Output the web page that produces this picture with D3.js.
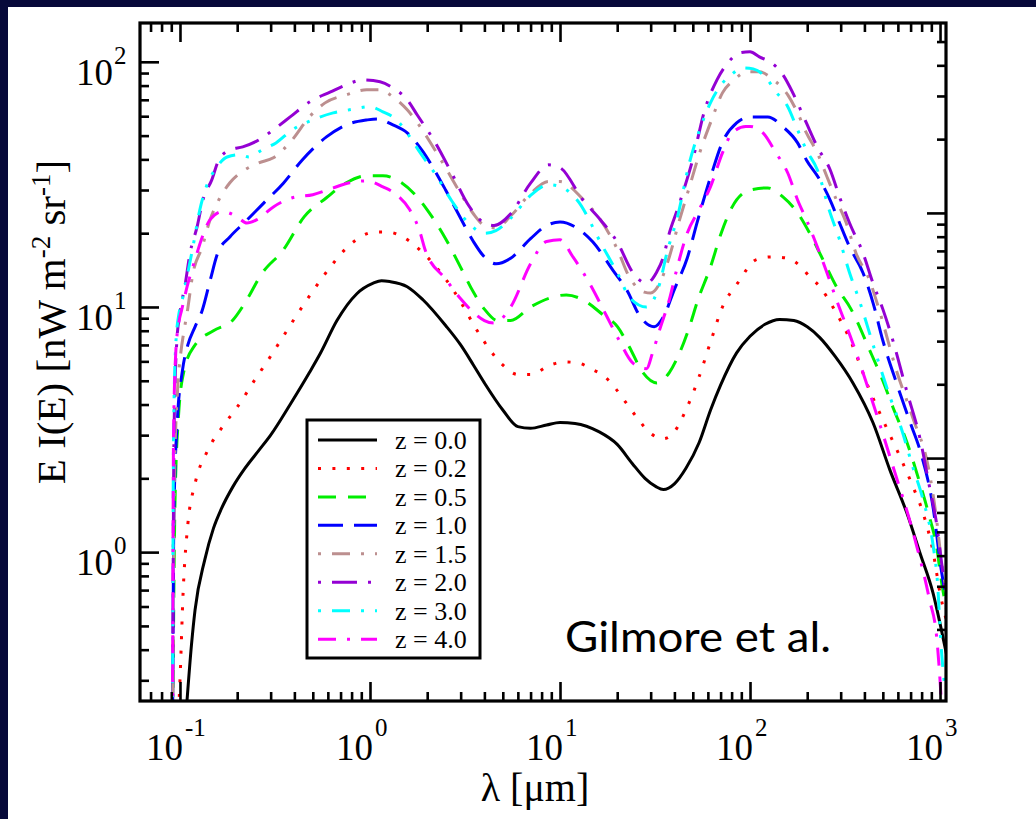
<!DOCTYPE html>
<html><head><meta charset="utf-8">
<script src="https://cdn.jsdelivr.net/npm/d3@7"></script>
<style>
html,body{margin:0;padding:0;background:#07093a;}
svg{display:block;}
</style></head>
<body>
<svg id="chart" width="1036" height="819"></svg>
<script>
// ---------------- data ----------------
const seriesLabels = ["z = 0.0","z = 0.2","z = 0.5","z = 1.0","z = 1.5","z = 2.0","z = 3.0","z = 4.0"];
const seriesColors = ["#000000","#ff0000","#00ee00","#0000ff","#bc8f8f","#9400d3","#00ffff","#ff00ff"];
const seriesDash = ["none","3,11.4","18,12","25,11","3,11,18,11","3,11,25,11","3,11,18,11,3,11","18,11,3,11,18,11"];

// [wavelength (micron), E I(E) (nW m^-2 sr^-1)]
const z00 = [[0.104,0.15],[0.109,0.25],[0.115,0.42],[0.12,0.58],[0.135,0.93],[0.15,1.25],[0.165,1.5],[0.19,1.85],[0.22,2.2],[0.26,2.6],[0.3,3.0],[0.38,4.0],[0.48,5.4],[0.55,6.5],[0.67,8.8],[0.85,11.3],[1.04,12.5],[1.15,12.8],[1.27,12.7],[1.57,12.1],[1.9,10.7],[2.5,8.4],[3.0,7.0],[3.5,5.8],[4.0,4.9],[5.0,3.8],[6.0,3.25],[7.0,3.2],[8.5,3.3],[10,3.38],[12,3.35],[16,3.1],[20,2.75],[24,2.3],[28,2.0],[32,1.85],[35,1.8],[40,1.9],[46,2.2],[54,2.8],[62,3.8],[70,4.8],[85,6.5],[100,7.6],[120,8.5],[143,8.9],[170,8.8],[200,8.3],[233,7.5],[280,6.3],[348,4.9],[444,3.37],[545,2.16],[670,1.44],[785,0.99],[919,0.68],[1012,0.49],[1100,0.36]];
const z02 = [[0.0915,0.1],[0.1,0.3],[0.104,0.7],[0.11,1.3],[0.12,1.9],[0.14,2.6],[0.17,3.3],[0.2,3.9],[0.25,5.1],[0.3,6.3],[0.35,7.6],[0.413,9.3],[0.5,11.6],[0.62,14.6],[0.77,17.7],[1.06,20.2],[1.25,20.2],[1.49,19.3],[1.95,16.3],[2.5,13.0],[3.0,10.5],[3.5,8.5],[4.0,7.2],[5.0,5.8],[6.0,5.3],[7.0,5.3],[8.9,5.8],[10.5,5.97],[12.6,5.9],[14.5,5.6],[17.2,5.2],[19.4,4.7],[21.6,4.2],[25,3.6],[30,3.05],[35,2.9],[40,3.1],[46,3.8],[54,5.2],[62,7.2],[71.6,10],[86,12.5],[108,15.6],[130,16.0],[158,15.8],[185,14.6],[206,13.3],[233,12.1],[273,10.0],[340,7.2],[425,4.6],[515,3.3],[617,2.44],[722,1.84],[815,1.44],[922,0.99],[1000,0.68],[1100,0.5]];
const z05 = [[0.0912,0.12],[0.094,1.5],[0.098,3.5],[0.105,5.5],[0.12,7.0],[0.15,8.0],[0.19,8.85],[0.22,10.4],[0.27,13.7],[0.35,17.1],[0.45,23.3],[0.59,27.9],[0.75,32.1],[0.96,34.3],[1.17,34.3],[1.44,32.4],[1.77,28.1],[2.0,24.9],[2.5,19],[3.0,14.5],[3.5,11.5],[4.0,9.8],[4.7,8.8],[5.5,8.8],[7.0,10.0],[8.9,10.9],[10.8,11.2],[13.2,10.7],[16.8,9.3],[20.1,8.3],[23.1,6.9],[27.3,5.4],[32.3,4.9],[37.6,5.4],[42.6,6.5],[48,8.3],[53,10.6],[62,14.6],[70.5,20],[80.6,25.6],[100,30],[124,30.6],[149,28.1],[178,24.2],[206,20],[242,15.6],[285,12.1],[340,9.8],[425,6.7],[500,5.0],[565,3.9],[670,2.8],[785,1.9],[880,1.39],[960,1.05],[1020,0.75],[1100,0.55]];
const z10 = [[0.0912,0.12],[0.093,1.5],[0.097,3.5],[0.103,5.5],[0.11,7.0],[0.12,8.3],[0.131,9.7],[0.144,12.8],[0.158,16.6],[0.183,19.3],[0.22,22.2],[0.27,26.1],[0.35,32],[0.44,39.8],[0.59,49.4],[0.75,55.3],[0.96,57.9],[1.09,58.5],[1.32,55.3],[1.57,51.3],[1.9,43],[2.07,38.8],[2.5,30],[3.0,23],[3.5,18.5],[4.0,16],[4.6,15],[5.5,15.8],[7.0,19],[8.5,21.5],[10,22.2],[12.6,20.7],[14.9,18.4],[19,14.1],[22.5,11.7],[26.5,9.1],[31.3,8.3],[35,9.1],[40,11.8],[46.7,15.8],[53,22.5],[62.8,35],[71.6,47],[85,56.3],[100,59.6],[124,59.6],[149,54.3],[178,46.7],[198,39.8],[233,33],[264,27.3],[296,22],[334,17.6],[393,13.8],[444,10.4],[500,7.3],[590,4.9],[697,3.37],[785,2.6],[922,1.5],[1012,0.86],[1100,0.6]];
const z15 = [[0.0912,0.1],[0.0935,2],[0.097,4.5],[0.101,6.5],[0.105,8],[0.109,9.46],[0.117,13.7],[0.131,17.6],[0.144,22.7],[0.158,26.8],[0.183,32.1],[0.22,36.3],[0.26,38.7],[0.31,40.6],[0.39,48.1],[0.48,59.6],[0.58,68],[0.75,73.3],[0.96,76.9],[1.13,76.9],[1.32,72],[1.57,63.7],[1.84,54.3],[2.07,47.1],[2.5,37],[3.0,29],[3.5,24],[4.0,21.5],[4.6,21],[5.5,23.5],[7.0,29],[8.7,32.5],[10,32.5],[13.2,27.5],[16.3,22.7],[20.1,17.1],[23.1,13.3],[27.8,11.5],[30,11.4],[33.5,12.5],[37.6,16],[42.6,22.7],[48,30.9],[54.3,42.5],[62.8,58],[71.6,74.7],[82.4,84.4],[96,91],[112,91],[133,84.4],[158,73.3],[178,61.9],[198,51.3],[226,42.5],[254,34],[285,27.3],[321,22],[361,16.6],[425,12.9],[479,9.7],[590,5.5],[722,3.5],[870,2.2],[960,1.35],[1012,0.95],[1100,0.65]];
const z20 = [[0.0912,0.1],[0.093,3],[0.096,7],[0.1,9.5],[0.106,12.1],[0.113,16.6],[0.123,21.2],[0.132,27.3],[0.147,33],[0.16,39.8],[0.183,43.7],[0.214,45],[0.26,48],[0.31,52.8],[0.38,59.6],[0.48,68.6],[0.62,75.4],[0.75,80.6],[0.92,84.4],[1.13,82.9],[1.32,78.3],[1.57,70],[1.77,60.8],[2.2,47],[2.7,35],[3.3,26],[4.0,22],[4.5,21.5],[5.5,24],[7.0,32],[8.7,38],[10,37],[13.2,27.3],[16.3,22.7],[20.1,18.3],[24.2,13.8],[28.5,12.5],[32.3,13.9],[35,16],[37.6,20],[41.5,25],[44.3,29.2],[49.9,39.8],[57.8,63.7],[67,84.4],[76.4,99],[88.6,108.8],[100,109.8],[112,104.8],[130,99],[149,88.5],[168,74.7],[198,56.3],[226,45],[264,36.3],[296,28.1],[334,22],[393,16.6],[444,12.5],[500,9.8],[545,8.0],[670,4.5],[785,2.9],[880,1.85],[960,1.3],[1020,0.9],[1100,0.6]];
const z30 = [[0.0912,0.1],[0.0925,3],[0.095,7],[0.099,9.5],[0.102,10.4],[0.11,13.8],[0.117,17.6],[0.127,24.8],[0.14,32.1],[0.153,36.3],[0.177,40.9],[0.207,41.8],[0.23,40.9],[0.27,43.7],[0.32,46.7],[0.39,52.8],[0.5,58],[0.64,61.9],[0.78,63.7],[1.0,65.6],[1.17,62.5],[1.38,58],[1.62,49.4],[1.84,42.5],[2.2,35],[2.7,27],[3.3,22],[4.0,20],[4.6,20.5],[5.5,23],[7.0,28.5],[8.7,31.5],[10,31],[12.3,27.3],[16.8,17.6],[20.5,13.3],[23.1,11],[28.5,10],[33.5,12.5],[36.5,16.6],[41.5,23.3],[48,38.8],[54.3,52.8],[61.9,68],[70.5,80.6],[79.5,88.5],[92.6,94.5],[104,93.6],[124,84.4],[137,75.4],[158,65.6],[178,52.8],[198,43.7],[226,36.3],[264,24.2],[296,18.8],[334,13.8],[375,10.7],[464,6.3],[545,4.3],[617,3.3],[722,2.2],[815,1.63],[922,1.05],[970,0.75],[1012,0.42],[1060,0.28]];
const z40 = [[0.0912,0.1],[0.0925,3],[0.095,6.5],[0.099,8.8],[0.102,9.7],[0.109,12.1],[0.12,15.6],[0.131,19.3],[0.144,22.7],[0.168,24.5],[0.2,23.3],[0.225,22],[0.254,22.7],[0.31,25.6],[0.39,27.9],[0.5,28.7],[0.64,30.6],[0.78,32.1],[0.96,32.7],[1.17,30.9],[1.38,28.7],[1.62,24.9],[1.84,20],[1.95,17.1],[2.5,13],[3.0,10.8],[3.5,9.5],[4.0,8.8],[4.5,8.6],[5.5,10],[7.0,15],[8.5,18.5],[10,18.8],[11.7,16.0],[14.3,12.5],[17.7,9.1],[20.5,7.3],[24.2,5.9],[28.5,5.6],[30.7,6.5],[33.5,8.1],[37.6,10.7],[41.5,14.6],[46.7,20],[54,25],[61.9,30.9],[71.6,42.5],[80.6,51.3],[95,54.5],[100,54.5],[117,51.3],[137,42.5],[158,35.2],[178,27.3],[198,22.7],[226,17.6],[254,13.8],[285,10.7],[348,7.1],[444,4.05],[565,2.24],[722,1.2],[880,0.64],[960,0.45],[1000,0.3],[1030,0.2]];
const seriesData = [z00,z02,z05,z10,z15,z20,z30,z40];

const xMajorTicks = [0.1, 1, 10, 100, 1000];
const xTickExponents = ["-1","0","1","2","3"];
const yMajorTicks = [1, 10, 100];
const yTickExponents = ["0","1","2"];
const rightAxisFactor = 2.419;   // unlabelled twin axis on the right

// ---------------- layout ----------------
const W = 1036, H = 819;
const L = 140, R = 946, T = 23, B = 701;
const svg = d3.select("#chart");
const serif = "'Liberation Serif','DejaVu Serif',serif";

svg.append("rect").attr("x",0).attr("y",0).attr("width",W).attr("height",H).attr("fill","#07093a");
svg.append("rect").attr("x",8).attr("y",7).attr("width",W-8).attr("height",H-7).attr("fill","#ffffff");

const x = d3.scaleLog().domain([0.0616, 1075]).range([L, R]);
const y = d3.scaleLog().domain([0.247, 144]).range([B, T]);
const yR = d3.scaleLog().domain([0.247/rightAxisFactor, 144/rightAxisFactor]).range([B, T]);

function logTicks(scale){
  const [a,b] = scale.domain();
  const major=[], minor=[];
  for(let e=-3;e<=4;e++){
    for(let m=1;m<=9;m++){
      const v = m*Math.pow(10,e);
      if(v>=a*1.0001 && v<=b*0.9999){ (m===1?major:minor).push(v); }
    }
  }
  return {major, minor};
}

// clip + curves
svg.append("clipPath").attr("id","plotclip").append("rect")
  .attr("x",L).attr("y",T).attr("width",R-L).attr("height",B-T);

const line = d3.line().x(d=>x(d[0])).y(d=>y(d[1])).curve(d3.curveMonotoneX);
const gLines = svg.append("g").attr("clip-path","url(#plotclip)");
seriesData.forEach((d,i)=>{
  gLines.append("path").attr("d",line(d))
    .attr("fill","none").attr("stroke",seriesColors[i]).attr("stroke-width",3)
    .attr("stroke-dasharray",seriesDash[i]).attr("stroke-linecap","butt");
});

// axes ticks (inward)
function drawAxis(axisFn, scale, transform){
  const t = logTicks(scale);
  [[t.minor,9],[t.major,19]].forEach(([vals,len])=>{
    const g = svg.append("g").attr("transform",transform)
      .call(axisFn(scale).tickValues(vals).tickSize(-len).tickFormat(""));
    g.select(".domain").remove();
    g.selectAll("line").attr("stroke","#000").attr("stroke-width",2.6);
  });
}
drawAxis(d3.axisBottom, x, `translate(0,${B})`);
drawAxis(d3.axisTop, x, `translate(0,${T})`);
drawAxis(d3.axisLeft, y, `translate(${L},0)`);
drawAxis(d3.axisRight, yR, `translate(${R},0)`);

// frame
svg.append("rect").attr("x",L).attr("y",T).attr("width",R-L).attr("height",B-T)
  .attr("fill","none").attr("stroke","#000").attr("stroke-width",3.2);

// tick labels
xMajorTicks.forEach((v,i)=>{
  const px = x(v);
  svg.append("text").attr("x",px+3).attr("y",760).attr("text-anchor","end")
    .attr("font-family",serif).attr("font-size",37).text("10");
  svg.append("text").attr("x",px+5).attr("y",736).attr("text-anchor","start")
    .attr("font-family",serif).attr("font-size",25).text(xTickExponents[i]);
});
yMajorTicks.forEach((v,i)=>{
  const py = y(v);
  svg.append("text").attr("x",113).attr("y",py+23).attr("text-anchor","end")
    .attr("font-family",serif).attr("font-size",37).text("10");
  svg.append("text").attr("x",114).attr("y",py+2).attr("text-anchor","start")
    .attr("font-family",serif).attr("font-size",25).text(yTickExponents[i]);
});

// axis titles
svg.append("text").attr("x",535).attr("y",801).attr("text-anchor","middle")
  .attr("font-family",serif).attr("font-size",40).text("λ [μm]");
const yt = svg.append("text").attr("transform","translate(65,322) rotate(-90)")
  .attr("text-anchor","middle").attr("font-family",serif).attr("font-size",41);
yt.append("tspan").text("E I(E) [nW m");
yt.append("tspan").attr("font-size",27).attr("dy",-15).text("-2");
yt.append("tspan").attr("dy",15).text(" sr");
yt.append("tspan").attr("font-size",27).attr("dy",-15).text("-1");
yt.append("tspan").attr("dy",15).text("]");

// legend
const lg = svg.append("g");
lg.append("rect").attr("x",307).attr("y",420).attr("width",173).attr("height",238)
  .attr("fill","#fff").attr("stroke","#000").attr("stroke-width",3);
seriesLabels.forEach((lab,i)=>{
  const yy = 440 + i*28.45;
  lg.append("line").attr("x1",318).attr("x2",377).attr("y1",yy).attr("y2",yy)
    .attr("stroke",seriesColors[i]).attr("stroke-width",3)
    .attr("stroke-dasharray",seriesDash[i]);
  lg.append("text").attr("x",395).attr("y",yy+9).attr("font-family",serif)
    .attr("font-size",26).text(lab);
});

// annotation
svg.append("text").attr("x",565).attr("y",652).attr("font-family","Lato,'Open Sans',sans-serif")
  .attr("font-size",42).attr("textLength",266).attr("lengthAdjust","spacingAndGlyphs")
  .text("Gilmore et al.");
</script>
</body></html>
